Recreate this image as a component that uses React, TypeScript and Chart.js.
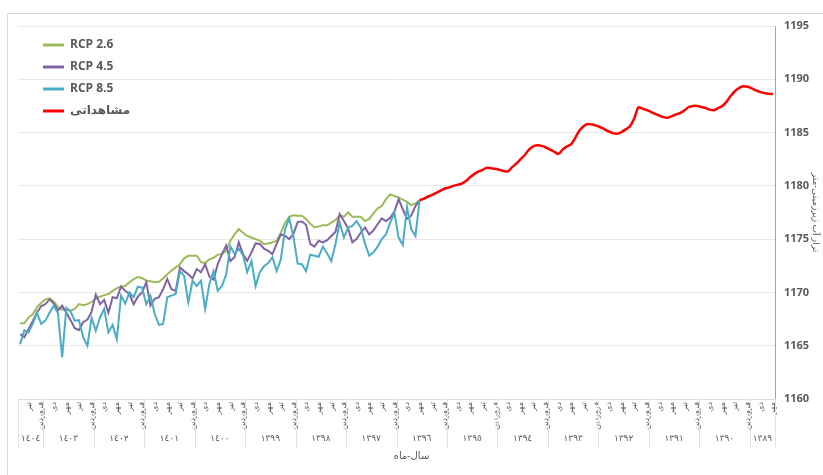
import { useEffect, useRef } from "react"
import { Chart, registerables } from "chart.js"

Chart.register(...registerables)

const FONT = '"Open Sans", "DejaVu Sans", sans-serif'
const TEXT = "#595959"

// ماه‌های سال شمسی (فقط هر سه ماه یک برچسب نمایش داده می‌شود)
const monthNames = ["فروردین", "اردیبهشت", "خرداد", "تیر", "مرداد", "شهریور", "مهر", "آبان", "آذر", "دی", "بهمن", "اسفند"]
const shownMonths = [0, 3, 6, 9]
const yearLabels = ["١٣٨٩", "١٣٩٠", "١٣٩١", "١٣٩٢", "١٣٩٣", "١٣٩٤", "١٣٩٥", "١٣٩٦", "١٣٩٧", "١٣٩٨", "١٣٩٩", "١٤٠٠", "١٤٠١", "١٤٠٢", "١٤٠٣", "١٤٠٤"]
const startMonth = 6 // مهر ۱۳۸۹
const endMonth = 5 // شهریور ۱۴۰۴

const seriesNames = ["RCP 2.6", "RCP 4.5", "RCP 8.5", "مشاهداتی"]
const seriesColors = ["#9BBB59", "#8064A2", "#4BACC6", "#FF0000"]

// مشاهداتی: مهر ۱۳۸۹ تا مهر ۱۳۹۶
const observed = [
  1188.62, 1188.65, 1188.7, 1188.8, 1188.95, 1189.15, 1189.3, 1189.35, 1189.2, 1188.9,
  1188.45, 1187.9, 1187.5, 1187.3, 1187.1, 1187.15, 1187.3, 1187.4, 1187.5, 1187.5,
  1187.4, 1187.1, 1186.85, 1186.7, 1186.55, 1186.4, 1186.45, 1186.6, 1186.75, 1186.95,
  1187.1, 1187.25, 1187.35, 1186.3, 1185.6, 1185.3, 1185.05, 1184.9, 1184.95, 1185.1,
  1185.3, 1185.5, 1185.65, 1185.75, 1185.8, 1185.6, 1185.2, 1184.5, 1183.9, 1183.7,
  1183.4, 1183.0, 1183.2, 1183.4, 1183.6, 1183.75, 1183.8, 1183.7, 1183.4, 1182.9,
  1182.5, 1182.1, 1181.75, 1181.35, 1181.4, 1181.5, 1181.6, 1181.65, 1181.7, 1181.5,
  1181.35, 1181.1, 1180.8, 1180.45, 1180.2, 1180.1, 1180.0, 1179.85, 1179.75, 1179.55,
  1179.35, 1179.15, 1179.0, 1178.8, 1178.65,
]

// سناریوها: مهر ۱۳۹۶ تا شهریور ۱۴۰۴
const rcp26 = [
  1178.65, 1178.35, 1178.2, 1178.5, 1178.7, 1178.9, 1179.05, 1179.2, 1178.75, 1178.1,
  1177.9, 1177.4, 1176.9, 1176.7, 1177.1, 1177.1, 1177.1, 1177.5, 1177.1, 1177.2,
  1176.8, 1176.55, 1176.3, 1176.3, 1176.2, 1176.1, 1176.45, 1176.9, 1177.2, 1177.2,
  1177.25, 1177.1, 1176.55, 1175.6, 1174.85, 1174.7, 1174.6, 1174.55, 1174.85, 1175.0,
  1175.15, 1175.3, 1175.6, 1175.95, 1175.45, 1174.85, 1173.9, 1173.6, 1173.55, 1173.25,
  1173.1, 1172.75, 1172.85, 1173.45, 1173.45, 1173.45, 1173.2, 1172.65, 1172.35, 1172.05,
  1171.7, 1171.3, 1171.0, 1170.95,
  1171.05, 1171.1, 1171.35, 1171.45, 1171.25, 1170.95, 1170.6, 1170.55, 1170.4, 1170.15,
  1169.85, 1169.75, 1169.6, 1169.4, 1169.1, 1168.9, 1168.8, 1168.9, 1168.45, 1168.3,
  1168.35, 1168.4, 1168.65, 1169.15, 1169.45, 1169.35, 1169.0, 1168.6, 1167.95, 1167.65,
  1167.1, 1167.1,
]
const rcp45 = [
  1178.65, 1178.1, 1177.2, 1176.9, 1177.8, 1178.75, 1177.6, 1177.0, 1176.7, 1176.95,
  1176.4, 1175.8, 1175.45, 1176.1, 1175.6, 1175.0, 1174.7, 1176.0, 1176.7, 1177.35,
  1175.7, 1175.3, 1174.9, 1174.7, 1174.85, 1174.3, 1174.55, 1176.35, 1176.65, 1176.6,
  1175.5, 1175.0, 1175.3, 1175.45, 1174.55, 1173.6, 1173.9, 1174.1, 1174.55, 1174.6,
  1173.75, 1172.95, 1173.6, 1174.7, 1173.3, 1172.95, 1174.4, 1173.6, 1172.65, 1171.2,
  1171.5, 1172.65, 1171.9, 1172.2, 1171.3, 1171.7, 1172.0, 1172.35, 1170.15, 1170.3,
  1171.25, 1170.3, 1169.55, 1169.4,
  1168.75, 1170.95, 1170.0, 1169.6, 1168.9, 1169.85, 1170.15, 1170.55, 1169.45, 1169.55,
  1168.1, 1169.3, 1168.9, 1169.8, 1168.2, 1167.45, 1167.2, 1166.45, 1166.65, 1167.4,
  1168.1, 1168.75, 1168.3, 1168.95, 1169.35, 1168.9, 1168.7, 1168.1, 1167.3, 1166.55,
  1165.8, 1166.1,
]
const rcp85 = [
  1178.65, 1175.3, 1175.95, 1178.0, 1174.45, 1175.15, 1177.5, 1176.55, 1175.45, 1175.0,
  1174.3, 1173.75, 1173.45, 1174.6, 1176.1, 1176.7, 1176.25, 1176.1, 1175.15, 1176.55,
  1174.55, 1172.95, 1173.65, 1174.3, 1173.35, 1173.45, 1173.55, 1172.0, 1172.65, 1172.7,
  1175.2, 1176.95, 1175.95, 1173.1, 1172.0, 1173.3, 1172.75, 1172.45, 1171.9, 1170.6,
  1172.95, 1171.9, 1173.5, 1174.1, 1173.6, 1174.3, 1171.7, 1170.6, 1170.15, 1172.0,
  1170.8, 1168.45, 1171.1, 1170.6, 1171.1, 1169.05, 1171.55, 1172.0, 1169.85, 1169.7,
  1169.55, 1167.05, 1166.95, 1168.0,
  1169.7, 1168.9, 1170.45, 1170.55, 1169.55, 1170.0, 1168.95, 1169.7, 1165.6, 1166.95,
  1166.25, 1168.45, 1167.65, 1166.4, 1167.6, 1165.0, 1165.8, 1167.4, 1167.35, 1168.2,
  1168.55, 1163.9, 1168.05, 1168.75, 1168.1, 1167.35, 1167.05, 1168.1, 1167.05, 1166.25,
  1166.45, 1165.15,
]

// فهرست ماه‌ها به ترتیب زمانی
const periods: { y: number; m: number }[] = []
yearLabels.forEach((_, y) => {
  const from = y === 0 ? startMonth : 0
  const to = y === yearLabels.length - 1 ? endMonth : 11
  for (let m = from; m <= to; m++) periods.push({ y, m })
})
const labels = periods.map((p) => monthNames[p.m] + " " + yearLabels[p.y])

const scenarioStart = observed.length - 1
const pad = (n: number) => new Array(n).fill(null)
const seriesData = [
  pad(scenarioStart).concat(rcp26),
  pad(scenarioStart).concat(rcp45),
  pad(scenarioStart).concat(rcp85),
  observed.concat(pad(periods.length - observed.length)),
]

// سطر سال‌ها، خطوط جداکننده و عنوان محور افقی
const yearAxisPlugin = {
  id: "yearAxis",
  afterDraw(chart: any) {
    const x = chart.scales.x
    const { ctx, chartArea } = chart
    const step = Math.abs(x.getPixelForValue(1) - x.getPixelForValue(0))
    const top = chartArea.bottom
    ctx.save()
    ctx.strokeStyle = "#e2e2e2"
    ctx.lineWidth = 1
    ctx.fillStyle = TEXT
    ctx.font = "9px " + FONT
    ctx.textAlign = "center"
    ctx.textBaseline = "middle"
    yearLabels.forEach((label, y) => {
      const idx = periods.map((p, i) => (p.y === y ? i : -1)).filter((i) => i >= 0)
      const a = x.getPixelForValue(idx[0])
      const b = x.getPixelForValue(idx[idx.length - 1])
      const right = Math.max(a, b) + step / 2
      const left = Math.min(a, b) - step / 2
      for (const px of [left, right]) {
        ctx.beginPath()
        ctx.moveTo(Math.round(px) + 0.5, top)
        ctx.lineTo(Math.round(px) + 0.5, top + 49)
        ctx.stroke()
      }
      ctx.fillText(label, (a + b) / 2, top + 39)
    })
    ctx.font = "10px " + FONT
    ctx.fillText("سال-ماه", (chartArea.left + chartArea.right) / 2 + 15, top + 57)
    ctx.restore()
  },
}

// جابجایی راهنما به داخل ناحیه نمودار
const legendShiftPlugin = {
  id: "legendShift",
  afterLayout(chart: any) {
    const legend = chart.legend
    if (!legend) return
    legend.left += 15
    legend.right += 15
    legend.top = chart.chartArea.top + 3
    legend.bottom = chart.chartArea.bottom
  },
}

export default function App() {
  const chartRef = useRef<HTMLCanvasElement>(null)
  const chartInstance = useRef<Chart | null>(null)

  useEffect(() => {
    if (!chartRef.current) return
    if (chartInstance.current) chartInstance.current.destroy()

    chartInstance.current = new Chart(chartRef.current, {
      type: "line",
      data: {
        labels,
        datasets: seriesNames.map((name, i) => ({
          label: name,
          data: seriesData[i],
          borderColor: seriesColors[i],
          backgroundColor: seriesColors[i],
          borderWidth: i === 3 ? 2.5 : 2,
          pointRadius: 0,
          tension: i === 3 ? 0.3 : 0,
          order: 3 - i,
        })),
      },
      options: {
        responsive: false,
        animation: false,
        layout: { padding: { left: 18, top: 26, right: 0, bottom: 0 } },
        scales: {
          x: {
            type: "category",
            reverse: true,
            offset: true,
            grid: { display: false, drawTicks: false },
            border: { display: true, color: "#dcdcdc" },
            ticks: {
              autoSkip: false,
              minRotation: 90,
              maxRotation: 90,
              padding: 3,
              color: TEXT,
              font: { size: 8, family: FONT },
              callback: (value: any) => {
                const m = periods[value as number].m
                return shownMonths.includes(m) ? monthNames[m] : ""
              },
            },
            afterFit: (scale: any) => {
              scale.height = 76
            },
          },
          y: {
            position: "right",
            min: 1160,
            max: 1195,
            grid: { color: "#e8e8e8", drawTicks: false },
            border: { display: true, color: "#a6a6a6" },
            ticks: {
              stepSize: 5,
              padding: 9,
              color: TEXT,
              font: { size: 11, weight: "bold", family: FONT },
              callback: (value: any) => String(value),
            },
            title: {
              display: true,
              text: "تراز آب زیرزمینی-متر",
              color: TEXT,
              padding: { top: 2, bottom: 0 },
              font: { size: 9, family: FONT },
            },
            afterFit: (scale: any) => {
              scale.width = 48
            },
          },
        },
        plugins: {
          legend: {
            position: "chartArea" as any,
            align: "start",
            labels: {
              boxWidth: 21,
              boxHeight: 3,
              padding: 10,
              color: TEXT,
              font: { size: 12, weight: "bold", family: FONT },
              generateLabels: (chart: any) =>
                chart.data.datasets.map((ds: any, i: number) => ({
                  text: ds.label,
                  fillStyle: ds.borderColor,
                  strokeStyle: ds.borderColor,
                  lineWidth: 0,
                  hidden: false,
                  datasetIndex: i,
                  fontColor: TEXT,
                })),
            },
          },
          tooltip: { enabled: false },
        },
      },
      plugins: [yearAxisPlugin, legendShiftPlugin],
    })

    return () => {
      if (chartInstance.current) {
        chartInstance.current.destroy()
        chartInstance.current = null
      }
    }
  }, [])

  return (
    <div style={{ position: "absolute", left: 0, top: 0, width: 823, height: 475, overflow: "hidden", background: "#fff" }}>
      <div
        style={{
          position: "absolute",
          left: 7,
          top: 13,
          right: -10,
          bottom: -10,
          borderLeft: "1px solid #d9d9d9",
          borderTop: "1px solid #d9d9d9",
        }}
      />
      <canvas ref={chartRef} width={823} height={475} style={{ position: "absolute", left: 0, top: 0 }} />
    </div>
  )
}
